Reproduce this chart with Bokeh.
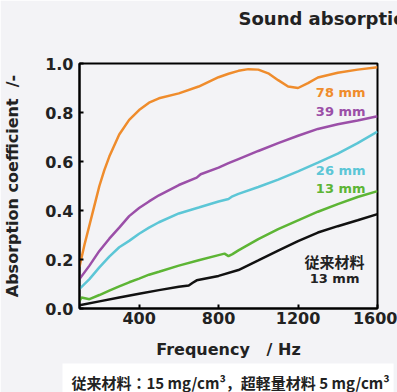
from bokeh.plotting import figure
from bokeh.models import Range1d, FixedTicker, Title, PrintfTickFormatter
from bokeh.core.properties import value
from bokeh.embed import file_html
from bokeh.resources import INLINE

# ---- data ----
freq_78 = [100, 125, 150, 175, 200, 225, 250, 300, 350, 400, 450, 500, 600, 700, 800, 850, 900, 950, 1000,
           1050, 1100, 1150, 1200, 1250, 1300, 1400, 1500, 1600]
abs_78 = [0.17, 0.26, 0.34, 0.42, 0.50, 0.565, 0.62, 0.71, 0.77, 0.81, 0.84, 0.858, 0.878, 0.906, 0.944,
          0.958, 0.970, 0.977, 0.975, 0.960, 0.932, 0.906, 0.900, 0.920, 0.943, 0.962, 0.975, 0.985]

freq_39 = [100, 150, 200, 250, 300, 350, 400, 450, 500, 600, 690, 710, 800, 850, 900, 1000, 1100, 1200,
           1300, 1400, 1500, 1600]
abs_39 = [0.12, 0.175, 0.235, 0.285, 0.33, 0.377, 0.41, 0.437, 0.462, 0.504, 0.534, 0.548, 0.575, 0.593,
          0.61, 0.643, 0.675, 0.705, 0.733, 0.752, 0.767, 0.785]

freq_26 = [100, 150, 200, 250, 300, 350, 400, 450, 500, 600, 700, 800, 850, 870, 900, 1000, 1100, 1200,
           1300, 1400, 1500, 1600]
abs_26 = [0.08, 0.12, 0.168, 0.212, 0.25, 0.276, 0.305, 0.33, 0.352, 0.388, 0.412, 0.437, 0.447, 0.458,
          0.468, 0.496, 0.526, 0.56, 0.595, 0.632, 0.675, 0.722]

freq_13 = [100, 110, 150, 200, 250, 300, 350, 400, 450, 500, 600, 700, 800, 830, 850, 870, 900, 1000,
           1100, 1200, 1300, 1400, 1500, 1600]
abs_13 = [0.03, 0.045, 0.038, 0.055, 0.073, 0.09, 0.107, 0.122, 0.138, 0.15, 0.175, 0.197, 0.218, 0.224,
          0.214, 0.222, 0.237, 0.283, 0.324, 0.36, 0.395, 0.426, 0.455, 0.479]

freq_conv = [100, 200, 300, 400, 500, 600, 650, 670, 690, 800, 900, 1000, 1100, 1200, 1300, 1400, 1500, 1600]
abs_conv = [0.013, 0.029, 0.045, 0.06, 0.075, 0.089, 0.094, 0.105, 0.115, 0.133, 0.157, 0.196, 0.236,
            0.275, 0.31, 0.336, 0.36, 0.385]

x_ticks = [400, 800, 1200, 1600]
y_ticks = [0.0, 0.2, 0.4, 0.6, 0.8, 1.0]

C_ORANGE = "#ef8c2c"
C_PURPLE = "#9b4fa8"
C_CYAN = "#5cc6d6"
C_GREEN = "#5db535"
C_BLACK = "#111111"
BG = "#f3f3f6"
FONT = "DejaVu Sans"

p = figure(width=397, height=392, output_backend="svg", toolbar_location=None,
           x_range=Range1d(100, 1600), y_range=Range1d(0, 1.0),
           min_border_left=79, min_border_right=20, min_border_top=63, min_border_bottom=82,
           background_fill_color=BG, border_fill_color=BG)

p.xgrid.visible = False
p.ygrid.visible = False
p.outline_line_color = "black"
p.outline_line_width = 2
p.outline_line_alpha = 1.0

for ax in (p.xaxis[0], p.yaxis[0]):
    ax.axis_line_width = 2
    ax.axis_line_color = "black"
    ax.major_tick_in = 4
    ax.major_tick_out = 0
    ax.major_tick_line_width = 2
    ax.minor_tick_line_color = None
    ax.major_label_text_font = FONT
    ax.major_label_text_font_style = "bold"
    ax.major_label_text_font_size = "16px"
    ax.major_label_text_color = "#222222"
    ax.axis_label_text_font = FONT
    ax.axis_label_text_font_style = "bold"
    ax.axis_label_text_font_size = "16px"
    ax.axis_label_text_color = "#222222"

p.xaxis.ticker = FixedTicker(ticks=x_ticks)
p.yaxis.ticker = FixedTicker(ticks=y_ticks)
p.yaxis.formatter = PrintfTickFormatter(format="%.1f")
p.xaxis.major_label_standoff = 3
p.yaxis.major_label_standoff = 6
p.xaxis.axis_label = "Frequency\u00a0\u00a0 / Hz"
p.yaxis.axis_label = "Absorption coefficient\u00a0 /-"
p.xaxis.axis_label_standoff = 13
p.yaxis.axis_label_standoff = 20

lw = 2.5
p.line(freq_conv, abs_conv, line_width=lw, line_color=C_BLACK)
p.line(freq_13, abs_13, line_width=lw, line_color=C_GREEN)
p.line(freq_26, abs_26, line_width=lw, line_color=C_CYAN)
p.line(freq_39, abs_39, line_width=lw, line_color=C_PURPLE)
p.line(freq_78, abs_78, line_width=lw, line_color=C_ORANGE)

def tag(x, y, txt, color, align="right", size="13px", font=FONT):
    p.text(x=[x], y=[y], text=[txt], text_align=align, text_baseline="middle",
           text_font=value(font), text_font_style="bold", text_font_size=size, text_color=color)

tag(1540, 0.883, "78 mm", C_ORANGE)
tag(1540, 0.806, "39 mm", C_PURPLE)
tag(1540, 0.563, "26 mm", C_CYAN)
tag(1540, 0.490, "13 mm", C_GREEN)
tag(1384, 0.190, "従来材料", "#222222", align="center", size="15px", font="Noto Sans CJK JP")
tag(1384, 0.121, "13 mm", "#222222", align="center")

p.title = Title(text="Sound absorption coefficient", align="left", offset=159, standoff=6,
                padding=dict(left=0, right=0, top=0, bottom=32),
                text_font=FONT, text_font_style="bold", text_font_size="18px", text_color="#222222")

caption = Title(text="従来材料：15 mg/cm³，超軽量材料 5 mg/cm³", align="left", offset=-17, standoff=0,
                text_font="Noto Sans CJK JP", text_font_style="bold", text_font_size="15px",
                text_color="#222222", background_fill_color="white",
                padding=dict(left=9, right=4, top=8, bottom=0))
p.add_layout(caption, "below")

open("out.html", "w").write(file_html(p, INLINE))
